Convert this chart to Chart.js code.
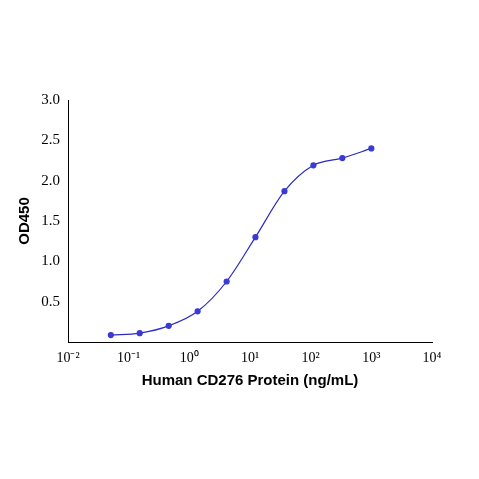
<!DOCTYPE html>
<html><head><script src="https://cdn.jsdelivr.net/npm/chart.js"></script>
<style>body{margin:0;background:#fff}#c{width:479px;height:479px}</style></head>
<body><div id="c"><canvas id="cv" width="479" height="479"></canvas></div>
<script>
const concentrations=[0.0508,0.152,0.457,1.37,4.12,12.3,37,111,333,1000];
const od450=[0.086,0.11,0.2,0.38,0.75,1.3,1.87,2.19,2.28,2.4];
const xTicks=[-2,-1,0,1,2,3,4];
const sup={'-':'⁻','0':'⁰','1':'¹','2':'²','3':'³','4':'⁴'};
const pts=concentrations.map((x,i)=>({x,y:od450[i]}));
new Chart(document.getElementById('cv'),{
 type:'scatter',
 data:{datasets:[
  {data:pts,showLine:true,tension:0.4,cubicInterpolationMode:'monotone',borderColor:'#2b2bbf',borderWidth:1.2,pointRadius:2.5,pointBackgroundColor:'#3a3ad6',pointBorderColor:'#3a3ad6'}
 ]},
 options:{responsive:false,animation:false,
  layout:{padding:{left:12,top:100,right:47,bottom:85}},
  plugins:{legend:{display:false},tooltip:{enabled:false}},
  scales:{
   x:{type:'logarithmic',min:0.01,max:10000,
    afterBuildTicks:s=>{s.ticks=xTicks.map(e=>({value:Math.pow(10,e)}));},
    afterFit:s=>{s.height=52;},
    ticks:{color:'#000',font:{family:'Liberation Serif',size:14},maxRotation:0,autoSkip:false,
      callback:v=>'10'+String(Math.round(Math.log10(v))).split('').map(c=>sup[c]).join('')},
    grid:{display:false,drawTicks:true,tickLength:5,tickColor:'#000'},
    border:{color:'#000',width:1},
    title:{display:true,text:'Human CD276 Protein (ng/mL)',color:'#000',font:{family:'Liberation Sans',size:15,weight:'bold'},padding:{top:4}}},
   y:{min:0,max:3,
    afterFit:s=>{s.width=56;},
    ticks:{stepSize:0.5,color:'#000',font:{family:'Liberation Serif',size:15},callback:v=>v===0?null:v.toFixed(1)},
    grid:{display:false,drawTicks:true,tickLength:5,tickColor:'#000'},
    border:{color:'#000',width:1},
    title:{display:true,text:'OD450',color:'#000',font:{family:'Liberation Sans',size:15,weight:'bold'},padding:{bottom:4}}}
  }}
});
</script></body></html>
